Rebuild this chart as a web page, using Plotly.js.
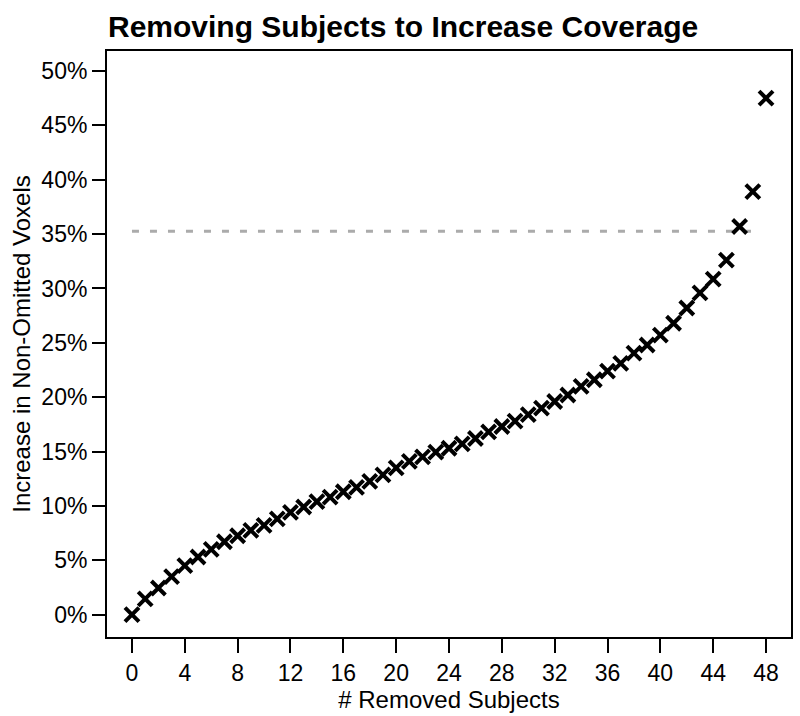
<!DOCTYPE html>
<html>
<head>
<meta charset="utf-8">
<script src="https://cdn.plot.ly/plotly-3.0.1.min.js"></script>
<style>html,body{margin:0;padding:0;background:#fff;}#chart{width:800px;height:716px;}</style>
</head>
<body>
<div id="chart"></div>
<script>
// Number of removed subjects
const removedSubjects = [0,1,2,3,4,5,6,7,8,9,10,11,12,13,14,15,16,17,18,19,20,21,22,23,24,
  25,26,27,28,29,30,31,32,33,34,35,36,37,38,39,40,41,42,43,44,45,46,47,48];
// Increase in non-omitted voxels (%)
const increasePct = [0,1.44,2.45,3.5,4.5,5.3,6.0,6.7,7.25,7.75,8.2,8.8,9.4,9.9,10.4,10.8,11.3,11.7,12.25,12.85,13.5,14.1,14.5,14.95,15.3,
  15.7,16.2,16.8,17.3,17.8,18.4,19.0,19.6,20.2,21.0,21.6,22.4,23.1,24.05,24.8,25.7,26.8,28.2,29.6,30.85,32.6,35.7,38.9,47.5];
// Reference threshold line
const thresholdX = [0, 47];
const thresholdY = [35.25, 35.25];
const xTicks = [0,4,8,12,16,20,24,28,32,36,40,44,48];
const yTicks = [0,5,10,15,20,25,30,35,40,45,50];
const yTickText = yTicks.map(v => v + '%');

const font = 'Liberation Sans, Arial, sans-serif';
const traces = [
  {x: thresholdX, y: thresholdY, mode: 'lines', type: 'scatter',
   line: {color: '#ababab', width: 3, dash: '7px,11px'}, hoverinfo: 'skip'},
  {x: removedSubjects, y: increasePct, mode: 'markers', type: 'scatter',
   marker: {symbol: 'x-thin-open', size: 14, color: '#000', line: {color: '#000', width: 4}}}
];
const layout = {
  width: 800, height: 716,
  margin: {l: 107, r: 9, t: 51, b: 79},
  showlegend: false,
  paper_bgcolor: '#fff', plot_bgcolor: '#fff',
  font: {family: font, color: '#000', size: 23},
  title: {text: '<b>Removing Subjects to Increase Coverage</b>', x: 0.135, xanchor: 'left', y: 0.963, yanchor: 'middle',
          font: {family: font, size: 30, color: '#000'}},
  xaxis: {range: [-1.89, 49.89], tickvals: xTicks, ticks: 'outside', ticklen: 14, tickwidth: 2, tickcolor: '#000',
          showline: true, linecolor: '#000', linewidth: 2, mirror: true, showgrid: false, zeroline: false,
          tickfont: {size: 23}, title: {text: '# Removed Subjects', font: {size: 24}, standoff: 2}},
  yaxis: {range: [-2.06, 51.84], tickvals: yTicks, ticktext: yTickText, ticks: 'outside', ticklen: 13, tickwidth: 2, tickcolor: '#000',
          showline: true, linecolor: '#000', linewidth: 2, mirror: true, showgrid: false, zeroline: false,
          tickfont: {size: 23}, title: {text: 'Increase in Non-Omitted Voxels', font: {size: 24}, standoff: 4}}
};
Plotly.newPlot('chart', traces, layout, {displayModeBar: false, staticPlot: true});
</script>
</body>
</html>
